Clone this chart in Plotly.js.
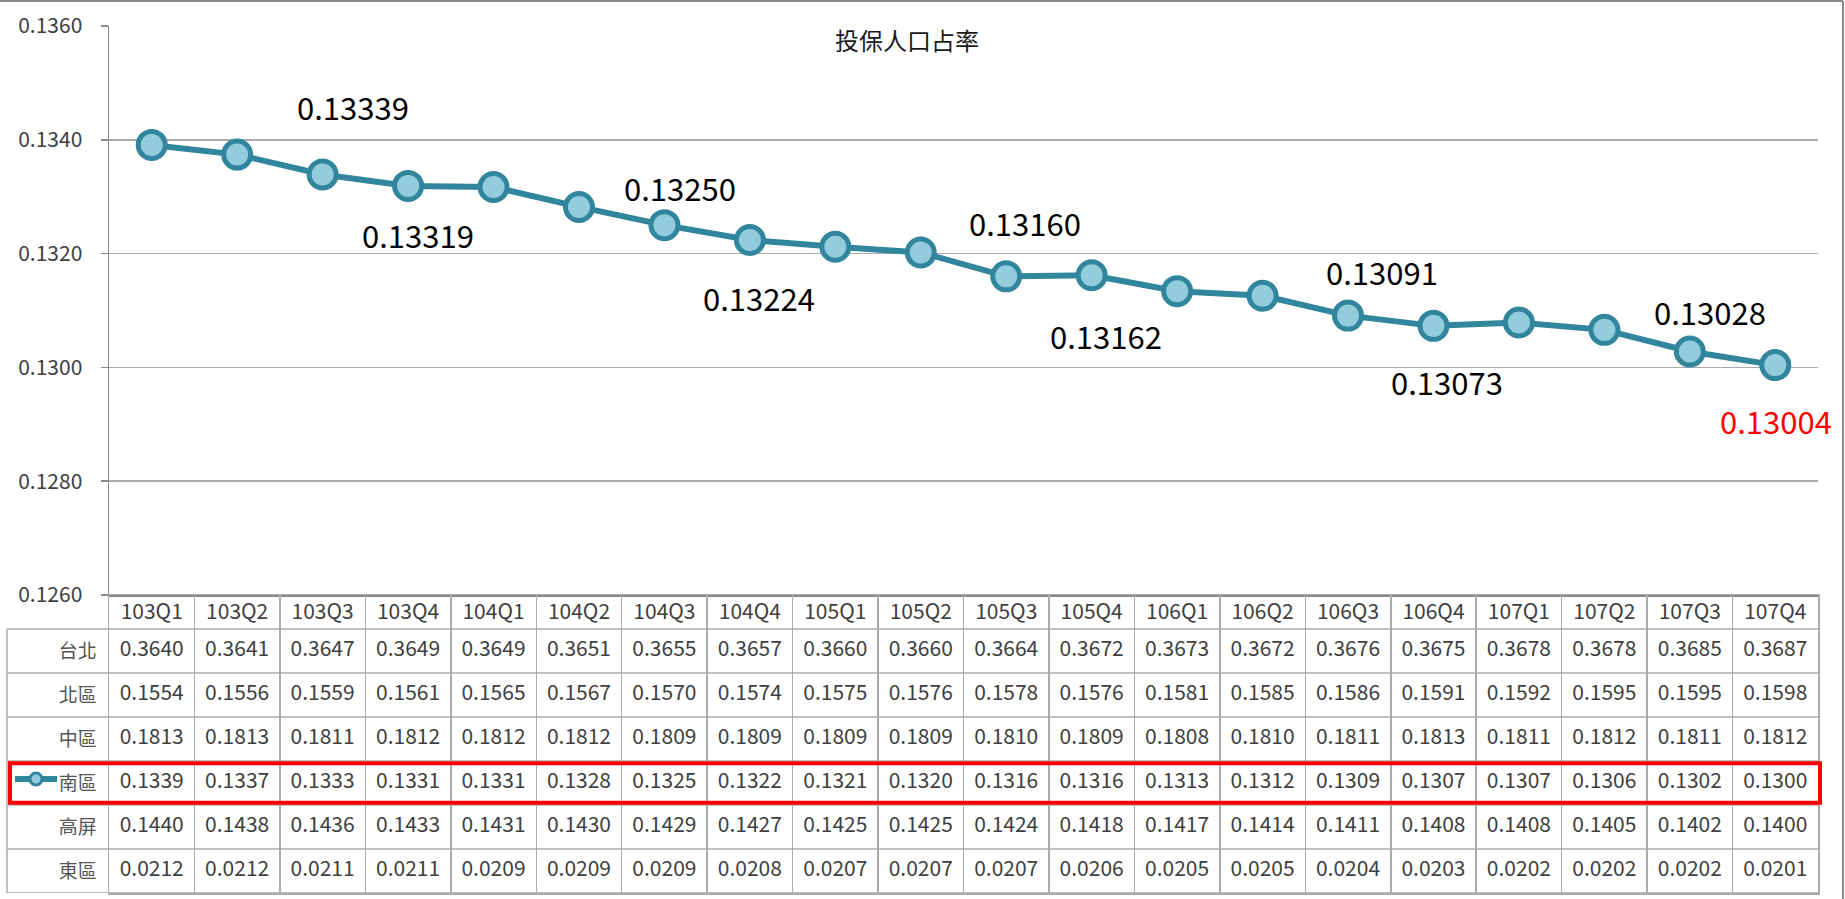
<!DOCTYPE html>
<html>
<head>
<meta charset="utf-8">
<script src="https://cdn.plot.ly/plotly-3.0.1.min.js"></script>
<style>
html,body{margin:0;padding:0;background:#fff;}
#chart{width:1845px;height:899px;}
</style>
</head>
<body>
<div id="chart"></div>
<script>
// ---------- data ----------
var quarters = ['103Q1','103Q2','103Q3','103Q4','104Q1','104Q2','104Q3','104Q4','105Q1','105Q2',
                '105Q3','105Q4','106Q1','106Q2','106Q3','106Q4','107Q1','107Q2','107Q3','107Q4'];

// plotted series (南區 投保人口占率)
var southShare = [0.13391,0.13374,0.13339,0.13319,0.13317,0.13282,0.13250,0.13224,0.13212,0.13202,
                  0.13160,0.13162,0.13134,0.13126,0.13091,0.13073,0.13079,0.13066,0.13028,0.13004];

// indices of points that carry a value label
var labelledPoints = [2,3,6,7,10,11,14,15,18,19];

// data table rows
var regionNames = ['台北','北區','中區','南區','高屏','東區'];
var taipei  = [0.3640,0.3641,0.3647,0.3649,0.3649,0.3651,0.3655,0.3657,0.3660,0.3660,0.3664,0.3672,0.3673,0.3672,0.3676,0.3675,0.3678,0.3678,0.3685,0.3687];
var north   = [0.1554,0.1556,0.1559,0.1561,0.1565,0.1567,0.1570,0.1574,0.1575,0.1576,0.1578,0.1576,0.1581,0.1585,0.1586,0.1591,0.1592,0.1595,0.1595,0.1598];
var central = [0.1813,0.1813,0.1811,0.1812,0.1812,0.1812,0.1809,0.1809,0.1809,0.1809,0.1810,0.1809,0.1808,0.1810,0.1811,0.1813,0.1811,0.1812,0.1811,0.1812];
var south   = [0.1339,0.1337,0.1333,0.1331,0.1331,0.1328,0.1325,0.1322,0.1321,0.1320,0.1316,0.1316,0.1313,0.1312,0.1309,0.1307,0.1307,0.1306,0.1302,0.1300];
var kaoping = [0.1440,0.1438,0.1436,0.1433,0.1431,0.1430,0.1429,0.1427,0.1425,0.1425,0.1424,0.1418,0.1417,0.1414,0.1411,0.1408,0.1408,0.1405,0.1402,0.1400];
var east    = [0.0212,0.0212,0.0211,0.0211,0.0209,0.0209,0.0209,0.0208,0.0207,0.0207,0.0207,0.0206,0.0205,0.0205,0.0204,0.0203,0.0202,0.0202,0.0202,0.0201];
var tableRows = [taipei, north, central, south, kaoping, east];

var yTicks = [0.126,0.128,0.130,0.132,0.134,0.136];

// ---------- styling / layout helpers ----------
var FONT = '"Noto Sans CJK TC","Noto Sans",sans-serif';
var TEAL = '#31859C', LIGHT = '#93CDDD', GRID = '#ababab', AXIS = '#8a8a8a', TXT = '#404040';
// label offsets (px) for each labelled point: [dx, dy(up +)]
var labelOffsets = [[30,68],[10,-49],[16,38],[9,-58],[19,54],[14,-60],[34,44],[14,-56],[20,40],[1,-55]];

var W = 1845, H = 899;
var mL = 109, mR = 27, mT = 26, mB = 6;
var plotW = W - mL - mR, plotH = H - mT - mB;
var tableTopPx = 595;                    // top of table / bottom of chart area
var rowPx = 44, headerPx = 34;
var nRows = regionNames.length;
var splitFrac = (H - mB - tableTopPx) / plotH;
var y2Max = nRows + headerPx / rowPx;
function px2x(px){ return (px - mL) / plotW; }
function px2y(py){ return (H - mB - py) / plotH; }

var traces = [];
traces.push({
  type:'scatter', mode:'lines+markers', x:quarters, y:southShare, name:'南區',
  xaxis:'x', yaxis:'y', cliponaxis:false, hoverinfo:'x+y',
  line:{color:TEAL, width:6},
  marker:{size:27, color:LIGHT, line:{color:TEAL, width:5}},
  showlegend:false
});
// table cells
tableRows.forEach(function(row, r){
  var yRow = nRows - r - 0.5;
  traces.push({
    type:'scatter', mode:'text', x:quarters, y:quarters.map(function(){return yRow;}),
    text:row.map(function(v){return v.toFixed(4);}), textposition:'middle center',
    textfont:{family:FONT, size:21, color:TXT},
    xaxis:'x2', yaxis:'y2', hoverinfo:'skip', showlegend:false, cliponaxis:false
  });
});
// header row
traces.push({
  type:'scatter', mode:'text', x:quarters, y:quarters.map(function(){return nRows + 0.34;}),
  text:quarters, textposition:'middle center',
  textfont:{family:FONT, size:21, color:TXT},
  xaxis:'x2', yaxis:'y2', hoverinfo:'skip', showlegend:false, cliponaxis:false
});

var shapes = [];
var xLeft = px2x(7);
for (var k = 0; k <= nRows; k++) {
  shapes.push({type:'line', xref:'paper', yref:'y2', x0:xLeft, x1:1, y0:k, y1:k,
               line:{color:GRID, width:1.5}});
}
shapes.push({type:'line', xref:'paper', yref:'y2', x0:xLeft, x1:xLeft, y0:0, y1:nRows,
             line:{color:GRID, width:1.5}});
// legend key in 南區 row
var southRowIdx = regionNames.indexOf('南區');
var keyY = nRows - southRowIdx - 0.5 + 0.09;
shapes.push({type:'line', xref:'paper', yref:'y2', x0:px2x(15), x1:px2x(57), y0:keyY, y1:keyY,
             line:{color:TEAL, width:6}});
shapes.push({type:'circle', xref:'paper', yref:'y2', xsizemode:'pixel', ysizemode:'pixel',
             xanchor:px2x(36), yanchor:keyY, x0:-6, x1:6, y0:-6, y1:6,
             fillcolor:LIGHT, line:{color:TEAL, width:3}});
// red highlight box around 南區 row
shapes.push({type:'rect', xref:'paper', yref:'y2', x0:px2x(10), x1:px2x(1820),
             y0:nRows - southRowIdx - 1 + 0.05, y1:nRows - southRowIdx - 0.05,
             line:{color:'#FF0000', width:4}, fillcolor:'rgba(0,0,0,0)'});
// outer frame (top & right)
shapes.push({type:'line', xref:'paper', yref:'paper', x0:px2x(0), x1:px2x(1843), y0:px2y(1), y1:px2y(1),
             line:{color:'#8c8c8c', width:2}});
shapes.push({type:'line', xref:'paper', yref:'paper', x0:px2x(1843), x1:px2x(1843), y0:px2y(899), y1:px2y(1),
             line:{color:'#8c8c8c', width:2}});

var annotations = labelledPoints.map(function(i, n){
  var last = (i === southShare.length - 1);
  return {
    xref:'x', yref:'y', x:quarters[i], y:southShare[i], showarrow:false,
    text:southShare[i].toFixed(5), xshift:labelOffsets[n][0], yshift:labelOffsets[n][1],
    font:{family:FONT, size:31, color: last ? '#FF0000' : '#000000'}
  };
});

var layout = {
  width:W, height:H,
  margin:{l:mL, r:mR, t:mT, b:mB, pad:0},
  paper_bgcolor:'#ffffff', plot_bgcolor:'#ffffff',
  showlegend:false,
  title:{text:'投保人口占率', xref:'container', yref:'container', x:907/W, y:1-42/H,
         xanchor:'center', yanchor:'middle', font:{family:FONT, size:24, color:'#1a1a1a'}},
  font:{family:FONT, color:TXT},
  xaxis:{type:'category', categoryarray:quarters, range:[-0.5, quarters.length-0.5], domain:[0,1],
         anchor:'y', showgrid:false, showline:true, linecolor:AXIS, linewidth:1.5,
         showticklabels:false, ticks:'', zeroline:false, fixedrange:true},
  yaxis:{domain:[splitFrac, 1], range:[yTicks[0], yTicks[yTicks.length-1]], tickvals:yTicks,
         ticktext:yTicks.map(function(v){return v.toFixed(4);}),
         showgrid:true, gridcolor:GRID, gridwidth:1.5, showline:true, linecolor:AXIS, linewidth:1.5,
         ticks:'outside', ticklen:7, tickcolor:AXIS, tickwidth:1.5, ticklabelstandoff:14,
         tickfont:{family:FONT, size:21, color:TXT}, zeroline:false, anchor:'x', fixedrange:true},
  xaxis2:{type:'category', categoryarray:quarters, range:[-0.5, quarters.length-0.5], matches:'x',
          anchor:'y2', domain:[0,1], showgrid:true, tickson:'boundaries', gridcolor:GRID, gridwidth:1.5,
          showline:true, mirror:true, linecolor:GRID, linewidth:1.5,
          showticklabels:false, ticks:'', zeroline:false, fixedrange:true},
  yaxis2:{domain:[0, splitFrac], range:[0, y2Max], anchor:'x2',
          tickvals:regionNames.map(function(_, r){return nRows - r - 0.5;}), ticktext:regionNames,
          showgrid:false, showline:true, mirror:true, linecolor:GRID, linewidth:1.5,
          ticks:'', ticklabelstandoff:7, tickfont:{family:FONT, size:19, color:'#555555'},
          zeroline:false, fixedrange:true},
  shapes:shapes,
  annotations:annotations
};

Plotly.newPlot('chart', traces, layout, {displayModeBar:false, staticPlot:true});
</script>
</body>
</html>
